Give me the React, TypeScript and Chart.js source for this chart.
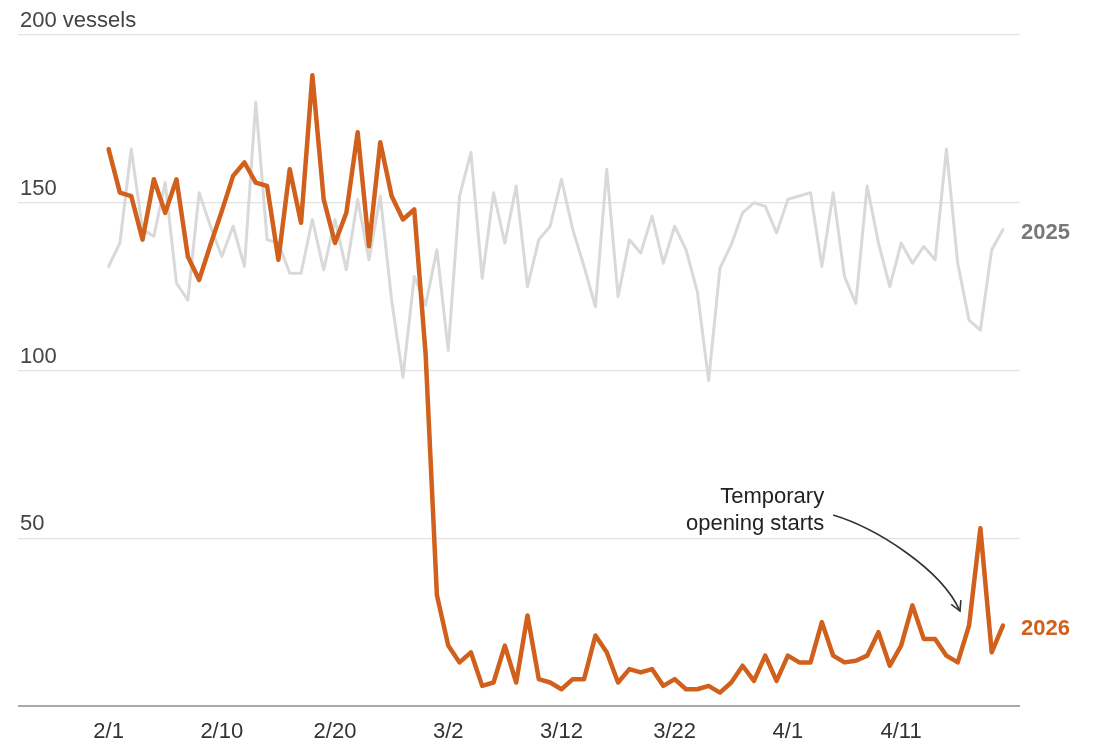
import React, { useEffect, useRef } from 'react';
import { Chart, registerables } from 'chart.js';

Chart.register(...registerables);

// Daily vessel counts, index 0 = 2/1
const vessels2026 = [
  166, 153, 152, 139, 157, 147, 157, 134, 127, 137.5,
  147.5, 158, 162, 156, 155, 133, 160, 144, 188, 151,
  138, 147, 171, 137, 168, 152, 145, 148, 105, 33,
  18, 13, 16, 6, 7, 18, 7, 27, 8, 7,
  5, 8, 8, 21, 16, 7, 11, 10, 11, 6,
  8, 5, 5, 6, 4, 7, 12, 7.5, 15, 7.5,
  15, 13, 13, 25, 15, 13, 13.5, 15, 22, 12,
  18, 30, 20, 20, 15, 13, 24, 53, 16, 24,
];

const vessels2025 = [
  131, 138, 166, 142, 140, 156, 126, 121, 153, 143,
  134, 143, 131, 180, 139, 138, 129, 129, 145, 130,
  145, 130, 151, 133, 152, 121, 98, 128, 119.5, 136,
  106, 152, 165, 127.5, 153, 138, 155, 125, 139, 143,
  157, 142, 131, 119, 160, 122, 139, 135, 146, 132,
  143, 136, 123.5, 97, 130.5, 137.5, 147, 150, 149, 141,
  151, 152, 153, 131, 153, 128, 120, 155, 138, 125,
  138, 132, 137, 133, 166, 132, 115, 112, 136, 142,
];

const tickIndex = [0, 10, 20, 30, 40, 50, 60, 70];
const tickLabels = ['2/1', '2/10', '2/20', '3/2', '3/12', '3/22', '4/1', '4/11'];

const yTickValues = [50, 100, 150, 200];
const yTickText = ['50', '100', '150', '200 vessels'];

const seriesNames = ['2026', '2025'];
const annotationLines = ['Temporary', 'opening starts'];

const ORANGE = '#d0601c';
const GREY_LINE = '#d9d9d9';
const GREY_TEXT = '#787878';
const FONT = '"Liberation Sans", Arial, sans-serif';

export default function App() {
  const ref = useRef<HTMLCanvasElement>(null);

  useEffect(() => {
    const canvas = ref.current;
    if (!canvas) return;

    const textPlugin = {
      id: 'customText',
      afterDatasetsDraw(chart: any) {
        const { ctx, chartArea, scales } = chart;
        const xs = scales.x;
        const ys = scales.y;
        ctx.save();
        // y labels above gridlines
        ctx.font = `22px ${FONT}`;
        ctx.fillStyle = '#444';
        ctx.textAlign = 'left';
        ctx.textBaseline = 'alphabetic';
        yTickValues.forEach((v, i) => {
          ctx.fillText(yTickText[i], chartArea.left + 2, ys.getPixelForValue(v) - 8);
        });

        // series end labels
        ctx.font = `bold 22px ${FONT}`;
        ctx.textBaseline = 'middle';
        const last = vessels2026.length - 1;
        ctx.fillStyle = ORANGE;
        ctx.fillText(seriesNames[0], chartArea.right + 1, ys.getPixelForValue(vessels2026[last]) + 3);
        ctx.fillStyle = GREY_TEXT;
        ctx.fillText(seriesNames[1], chartArea.right + 1, ys.getPixelForValue(vessels2025[last]) + 3);

        // annotation text
        ctx.font = `22px ${FONT}`;
        ctx.fillStyle = '#222';
        ctx.textAlign = 'right';
        ctx.textBaseline = 'alphabetic';
        const tx = xs.getPixelForValue(63.2);
        ctx.fillText(annotationLines[0], tx, ys.getPixelForValue(60.6));
        ctx.fillText(annotationLines[1], tx, ys.getPixelForValue(52.4));

        // curved arrow
        const p0 = [xs.getPixelForValue(64.0), ys.getPixelForValue(56.9)];
        const c1 = [xs.getPixelForValue(67.7), ys.getPixelForValue(53.1)];
        const c2 = [xs.getPixelForValue(73.5), ys.getPixelForValue(41.1)];
        const p1 = [xs.getPixelForValue(75.2), ys.getPixelForValue(28.3)];
        ctx.strokeStyle = '#333';
        ctx.lineWidth = 1.6;
        ctx.beginPath();
        ctx.moveTo(p0[0], p0[1]);
        ctx.bezierCurveTo(c1[0], c1[1], c2[0], c2[1], p1[0], p1[1]);
        ctx.stroke();
        const ang = Math.atan2(p1[1] - c2[1], p1[0] - c2[0]);
        const len = 11;
        ctx.beginPath();
        ctx.moveTo(p1[0] - len * Math.cos(ang - 0.5), p1[1] - len * Math.sin(ang - 0.5));
        ctx.lineTo(p1[0], p1[1]);
        ctx.lineTo(p1[0] - len * Math.cos(ang + 0.5), p1[1] - len * Math.sin(ang + 0.5));
        ctx.stroke();
        ctx.restore();
      },
    };

    const chart = new Chart(canvas, {
      type: 'line',
      data: {
        datasets: [
          {
            label: seriesNames[0],
            data: vessels2026.map((v, i) => ({ x: i, y: v })),
            borderColor: ORANGE,
            borderWidth: 4.5,
            pointRadius: 0,
            borderJoinStyle: 'round',
            borderCapStyle: 'round',
            tension: 0,
            order: 0,
          },
          {
            label: seriesNames[1],
            data: vessels2025.map((v, i) => ({ x: i, y: v })),
            borderColor: GREY_LINE,
            borderWidth: 3,
            pointRadius: 0,
            borderJoinStyle: 'round',
            borderCapStyle: 'round',
            tension: 0,
            order: 1,
          },
        ],
      },
      options: {
        animation: false,
        responsive: false,
        maintainAspectRatio: false,
        devicePixelRatio: 1,
        layout: { padding: { left: 18, right: 75, top: 35, bottom: 0 } },
        plugins: { legend: { display: false }, tooltip: { enabled: false } },
        scales: {
          x: {
            type: 'linear',
            min: -8,
            max: 80.5,
            grid: { display: false, drawTicks: false },
            border: { display: false },
            afterBuildTicks: (s: any) => {
              s.ticks = tickIndex.map((v) => ({ value: v }));
            },
            afterFit: (s: any) => {
              s.height = 38;
            },
            ticks: {
              autoSkip: false,
              maxRotation: 0,
              padding: 13,
              color: '#333',
              font: { family: FONT, size: 22 },
              callback: (v: any) => {
                const k = tickIndex.indexOf(Number(v));
                return k >= 0 ? tickLabels[k] : '';
              },
            },
          },
          y: {
            min: 0,
            max: 200,
            afterBuildTicks: (s: any) => {
              s.ticks = [0, ...yTickValues].map((v) => ({ value: v }));
            },
            ticks: { display: false },
            grid: {
              drawTicks: false,
              color: (c: any) => (c.tick && c.tick.value === 0 ? '#a8a8a8' : '#e2e2e2'),
              lineWidth: (c: any) => (c.tick && c.tick.value === 0 ? 2 : 1.2),
            },
            border: { display: false },
          },
        },
      },
      plugins: [textPlugin],
    } as any);

    return () => chart.destroy();
  }, []);

  return (
    <div style={{ position: 'fixed', left: 0, top: 0, width: 1095, height: 744, background: '#fff' }}>
      <canvas ref={ref} width={1095} height={744} style={{ display: 'block' }} />
    </div>
  );
}
